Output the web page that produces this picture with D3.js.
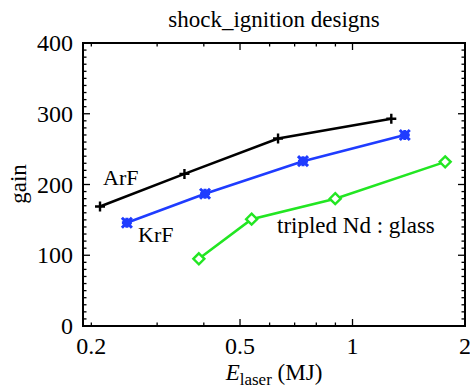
<!DOCTYPE html>
<html>
<head>
<meta charset="utf-8">
<script src="https://cdn.jsdelivr.net/npm/d3@7"></script>
<style>
  html, body { margin: 0; padding: 0; background: #fff; }
  svg { display: block; font-family: "Liberation Serif", "Times New Roman", serif; }
</style>
</head>
<body>
<svg id="chart" width="470" height="389"></svg>
<script>
// Laser energy (MJ) and target gain for each driver
const arfEnergy = [0.211, 0.355, 0.632, 1.27];
const arfGain   = [169, 215, 265, 293];
const krfEnergy = [0.249, 0.403, 0.737, 1.38];
const krfGain   = [146, 187, 233, 270];
const ndEnergy  = [0.388, 0.537, 0.899, 1.77];
const ndGain    = [95, 151, 180, 232];

const xTickValues = [0.2, 0.5, 1, 2];
const xTickLabels = ["0.2", "0.5", "1", "2"];
const yTickValues = [0, 100, 200, 300, 400];

const margin = { left: 83, right: 5, top: 43, bottom: 63 };
const W = 470, H = 389;
const svg = d3.select("#chart");

const x = d3.scaleLog().domain([0.19, 2]).range([margin.left, W - margin.right]);
const y = d3.scaleLinear().domain([0, 400]).range([H - margin.bottom, margin.top]);

const series = [
  { name: "ArF", energy: arfEnergy, gain: arfGain, color: "#000000", marker: "plus" },
  { name: "KrF", energy: krfEnergy, gain: krfGain, color: "#1f3cff", marker: "star" },
  { name: "tripled Nd : glass", energy: ndEnergy, gain: ndGain, color: "#22e622", marker: "diamond" }
];

// Minor and major ticks, drawn inward on all four sides
const allX = [0.2, 0.3, 0.4, 0.5, 0.6, 0.7, 0.8, 0.9, 1, 2];
const majorX = new Set([0.5, 1]);
const tickG = svg.append("g").attr("stroke", "#000").attr("stroke-width", 1.3);
allX.forEach(v => {
  const len = majorX.has(v) ? 7 : 3.5;
  tickG.append("line").attr("x1", x(v)).attr("x2", x(v))
    .attr("y1", y(0)).attr("y2", y(0) - len);
  tickG.append("line").attr("x1", x(v)).attr("x2", x(v))
    .attr("y1", y(400)).attr("y2", y(400) + len);
});
d3.range(0, 401, 10).forEach(v => {
  const len = v % 100 === 0 ? 7 : 3.5;
  tickG.append("line").attr("x1", x.range()[0]).attr("x2", x.range()[0] + len)
    .attr("y1", y(v)).attr("y2", y(v));
  tickG.append("line").attr("x1", x.range()[1]).attr("x2", x.range()[1] - len)
    .attr("y1", y(v)).attr("y2", y(v));
});

// Plot frame
svg.append("rect")
  .attr("x", x.range()[0]).attr("y", y(400))
  .attr("width", x.range()[1] - x.range()[0]).attr("height", y(0) - y(400))
  .attr("fill", "none").attr("stroke", "#000").attr("stroke-width", 2);

// Axis tick labels
svg.append("g").selectAll("text").data(xTickValues).join("text")
  .attr("x", d => x(d)).attr("y", 354)
  .attr("text-anchor", "middle").attr("font-size", 24)
  .text((d, i) => xTickLabels[i]);
svg.append("g").selectAll("text").data(yTickValues).join("text")
  .attr("x", 73).attr("y", d => y(d) + 8)
  .attr("text-anchor", "end").attr("font-size", 24)
  .text(d => d);

// Axis titles
const xt = svg.append("text").attr("x", 274).attr("y", 380)
  .attr("text-anchor", "middle").attr("font-size", 23);
xt.append("tspan").attr("font-style", "italic").text("E");
xt.append("tspan").attr("font-size", 17).attr("dy", 5).text("laser");
xt.append("tspan").attr("dy", -5).text(" (MJ)");

svg.append("text").attr("transform", "translate(26,184) rotate(-90)")
  .attr("text-anchor", "middle").attr("font-size", 23).text("gain");

svg.append("text").attr("x", 274).attr("y", 27)
  .attr("text-anchor", "middle").attr("font-size", 23).text("shock_ignition designs");

// Series lines and markers
const line = d3.line().x(d => x(d[0])).y(d => y(d[1]));
series.forEach(s => {
  const pts = s.energy.map((e, i) => [e, s.gain[i]]);
  const g = svg.append("g");
  g.append("path").datum(pts).attr("d", line)
    .attr("fill", "none").attr("stroke", s.color).attr("stroke-width", 2.6);
  pts.forEach(p => {
    const cx = x(p[0]), cy = y(p[1]);
    if (s.marker === "plus") {
      g.append("path").attr("d", `M${cx-5},${cy}H${cx+5}M${cx},${cy-5}V${cy+5}`)
        .attr("stroke", s.color).attr("stroke-width", 2.4);
    } else if (s.marker === "star") {
      g.append("path")
        .attr("d", `M${cx-5},${cy-5}L${cx+5},${cy+5}M${cx-5},${cy+5}L${cx+5},${cy-5}M${cx-5},${cy}H${cx+5}M${cx},${cy-5}V${cy+5}`)
        .attr("stroke", s.color).attr("stroke-width", 3);
      g.append("rect").attr("x", cx - 4).attr("y", cy - 4).attr("width", 8).attr("height", 8)
        .attr("fill", s.color);
    } else {
      g.append("path").attr("d", `M${cx},${cy-5.5}L${cx+5.5},${cy}L${cx},${cy+5.5}L${cx-5.5},${cy}Z`)
        .attr("fill", "#fff").attr("stroke", s.color).attr("stroke-width", 2.4);
    }
  });
});

// Series labels
svg.append("text").attr("x", 103).attr("y", 185).attr("font-size", 22).text("ArF");
svg.append("text").attr("x", 138).attr("y", 242).attr("font-size", 22).text("KrF");
svg.append("text").attr("x", 277).attr("y", 233).attr("font-size", 23).text("tripled Nd : glass");
</script>
</body>
</html>
